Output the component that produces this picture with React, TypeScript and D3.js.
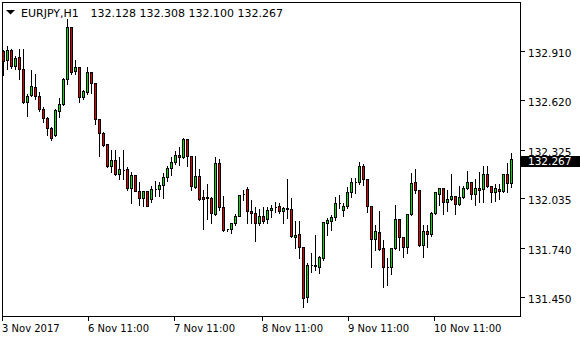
import React from "react";
import * as d3 from "d3";

const symbolName = "EURJPY,H1";

const opens = [
  132.910, 132.855, 132.916, 132.821, 132.877, 132.805, 132.607, 132.648, 132.698, 132.642,
  132.563, 132.514, 132.454, 132.410, 132.553, 132.597, 132.746, 133.050, 132.791, 132.817,
  132.639, 132.669, 132.785, 132.722, 132.504, 132.425, 132.359, 132.226, 132.266, 132.181,
  132.206, 132.210, 132.097, 132.176, 132.081, 132.035, 132.081, 132.032, 132.091, 132.091,
  132.117, 132.163, 132.216, 132.252, 132.295, 132.282, 132.389, 132.289, 132.103, 132.170,
  132.044, 132.041, 132.038, 131.942, 132.246, 131.984, 131.853, 131.853, 131.889, 131.932,
  132.061, 132.091, 131.962, 131.948, 131.889, 131.928, 131.913, 131.964, 131.982, 131.988,
  131.958, 131.974, 131.972, 131.809, 131.823, 131.746, 131.448, 131.637, 131.637, 131.631,
  131.684, 131.892, 131.904, 131.925, 132.008, 131.964, 131.988, 132.073, 132.133, 132.131,
  132.230, 132.151, 131.992, 131.794, 131.835, 131.740, 131.631, 131.631, 131.740, 131.913,
  131.806, 131.746, 131.942, 132.133, 132.083, 131.756, 131.843, 131.823, 131.948, 132.061,
  132.097, 132.014, 132.032, 132.047, 132.002, 132.044, 132.097, 132.131, 132.061, 132.097,
  132.091, 132.181, 132.107, 132.071, 132.091, 132.077, 132.181, 132.128,
];

const highs = [
  132.920, 132.946, 132.930, 132.885, 132.930, 132.930, 132.663, 132.805, 132.778, 132.672,
  132.583, 132.523, 132.464, 132.573, 132.639, 132.754, 133.103, 133.057, 132.861, 132.820,
  132.682, 132.821, 132.788, 132.725, 132.514, 132.434, 132.361, 132.329, 132.329, 132.285,
  132.329, 132.226, 132.196, 132.182, 132.141, 132.087, 132.084, 132.117, 132.147, 132.136,
  132.190, 132.236, 132.289, 132.321, 132.345, 132.401, 132.391, 132.295, 132.295, 132.216,
  132.091, 132.127, 132.047, 132.285, 132.276, 132.057, 131.859, 131.898, 131.948, 132.063,
  132.093, 132.111, 132.032, 131.988, 131.978, 131.988, 131.988, 132.004, 132.017, 132.012,
  131.988, 132.157, 132.044, 131.909, 131.909, 131.748, 131.660, 131.720, 131.823, 131.700,
  131.902, 131.925, 131.944, 132.047, 132.062, 132.012, 132.111, 132.163, 132.160, 132.256,
  132.245, 132.157, 131.998, 131.885, 131.968, 131.794, 131.687, 131.740, 132.004, 131.915,
  131.813, 131.948, 132.190, 132.216, 132.085, 131.885, 131.885, 131.958, 132.077, 132.103,
  132.099, 132.091, 132.187, 132.057, 132.117, 132.117, 132.206, 132.132, 132.157, 132.196,
  132.236, 132.236, 132.108, 132.127, 132.127, 132.187, 132.249, 132.308,
];

const lows = [
  132.766, 132.801, 132.811, 132.801, 132.742, 132.603, 132.523, 132.642, 132.627, 132.553,
  132.488, 132.414, 132.381, 132.403, 132.520, 132.587, 132.712, 132.772, 132.772, 132.607,
  132.627, 132.653, 132.663, 132.474, 132.285, 132.345, 132.224, 132.190, 132.176, 132.151,
  132.151, 132.087, 132.010, 132.077, 131.998, 131.992, 131.988, 132.012, 132.047, 132.047,
  132.035, 132.136, 132.176, 132.242, 132.236, 132.276, 132.230, 132.087, 132.097, 132.028,
  131.853, 131.913, 131.892, 131.938, 131.968, 131.843, 131.839, 131.829, 131.879, 131.928,
  132.028, 131.889, 131.892, 131.785, 131.879, 131.892, 131.889, 131.925, 131.952, 131.948,
  131.892, 131.919, 131.809, 131.740, 131.681, 131.389, 131.422, 131.601, 131.611, 131.591,
  131.670, 131.819, 131.849, 131.909, 131.978, 131.928, 131.978, 132.044, 132.067, 132.123,
  132.114, 131.952, 131.627, 131.730, 131.730, 131.508, 131.522, 131.587, 131.734, 131.726,
  131.690, 131.710, 131.938, 132.067, 131.750, 131.687, 131.746, 131.813, 131.944, 131.998,
  131.944, 131.958, 132.028, 131.944, 131.998, 132.038, 132.091, 132.032, 131.998, 132.012,
  132.012, 132.103, 132.012, 132.017, 132.032, 132.071, 132.071, 132.100,
];

const closes = [
  132.851, 132.916, 132.821, 132.871, 132.805, 132.607, 132.642, 132.702, 132.642, 132.563,
  132.514, 132.454, 132.395, 132.557, 132.597, 132.746, 133.050, 132.785, 132.817, 132.639,
  132.672, 132.785, 132.722, 132.508, 132.425, 132.355, 132.226, 132.266, 132.181, 132.210,
  132.204, 132.097, 132.176, 132.079, 132.038, 132.081, 131.992, 132.091, 132.093, 132.117,
  132.163, 132.216, 132.252, 132.295, 132.282, 132.389, 132.285, 132.107, 132.170, 132.032,
  132.032, 132.039, 131.948, 132.246, 131.982, 131.845, 131.851, 131.889, 131.932, 132.057,
  132.063, 131.958, 131.948, 131.889, 131.928, 131.904, 131.968, 131.978, 131.984, 131.958,
  131.978, 131.976, 131.812, 131.819, 131.746, 131.442, 131.637, 131.639, 131.635, 131.687,
  131.898, 131.909, 131.925, 132.008, 132.010, 131.988, 132.073, 132.133, 132.135, 132.230,
  132.151, 131.988, 131.794, 131.843, 131.736, 131.627, 131.629, 131.740, 131.913, 131.806,
  131.746, 131.942, 132.127, 132.083, 131.756, 131.843, 131.823, 131.948, 132.073, 132.097,
  132.014, 132.032, 132.047, 132.002, 132.044, 132.097, 132.133, 132.061, 132.097, 132.083,
  132.181, 132.107, 132.071, 132.097, 132.077, 132.181, 132.127, 132.267,
];

const priceTicks = [131.45, 131.74, 132.035, 132.325, 132.62, 132.91];
const timeLabels = ["3 Nov 2017", "6 Nov 11:00", "7 Nov 11:00", "8 Nov 11:00", "9 Nov 11:00", "10 Nov 11:00"];
const timeLabelBars = [0, 21.5, 43, 65, 86.5, 108];

const BULL = "#00dd00";
const BEAR = "#e00000";
const FONT = "'DejaVu Sans', Verdana, sans-serif";

export default function App() {
  const W = 580;
  const H = 340;
  const left = 2.5, right = 520.5, top = 2.5, bottom = 316.5;
  const n = opens.length;

  const x = d3.scaleLinear().domain([0, n - 1]).range([3.5, 511.5]);
  const y = d3.scaleLinear().domain([131.45, 132.91]).range([297.5, 51.5]);
  const snap = (v: number) => Math.round(v - 0.5) + 0.5;

  const lastClose = closes[n - 1];
  const lastY = y(lastClose);
  const fmt = d3.format(".3f");

  return (
    <svg
      width={W}
      height={H}
      style={{ position: "absolute", left: 0, top: 0, background: "#fff" }}
      fontFamily={FONT}
    >
      <rect x={0} y={0} width={W} height={H} fill="#fff" />
      <defs>
        <clipPath id="plot">
          <rect x={left} y={top} width={right - left} height={bottom - top} />
        </clipPath>
      </defs>
      <g clipPath="url(#plot)" shapeRendering="crispEdges">
        {opens.map((o, i) => {
          const c = closes[i];
          const cx = snap(x(i));
          const yH = snap(y(highs[i]));
          const yL = snap(y(lows[i]));
          const yT = snap(y(Math.max(o, c)));
          const yB = snap(y(Math.min(o, c)));
          const bull = c >= o;
          return (
            <g key={i}>
              <line x1={cx} x2={cx} y1={yH} y2={yL} stroke="#000" strokeWidth={1} />
              <path
                d={`M${cx - 1},${yT}H${cx + 1}V${yB}H${cx - 1}Z`}
                fill={bull ? BULL : BEAR}
                stroke="#000"
                strokeWidth={1}
              />
            </g>
          );
        })}
      </g>
      <rect
        x={left}
        y={top}
        width={right - left}
        height={bottom - top}
        fill="none"
        stroke="#000"
        strokeWidth={1}
        shapeRendering="crispEdges"
      />
      {/* price axis */}
      {priceTicks.map((p, i) => {
        const ty = snap(y(p));
        return (
          <g key={i}>
            <line x1={right} x2={right + 4} y1={ty} y2={ty} stroke="#000" shapeRendering="crispEdges" />
            <text x={528} y={ty + 5} fontSize={10.5} fill="#000">
              {fmt(p)}
            </text>
          </g>
        );
      })}
      <rect x={521} y={Math.round(lastY) - 4} width={59} height={11} fill="#000" />
      <text x={528} y={Math.round(lastY) + 5} fontSize={10.5} fill="#fff">
        {fmt(lastClose)}
      </text>
      {/* time axis */}
      {timeLabelBars.map((b, i) => {
        const tx = snap(x(b) - 1);
        return (
          <g key={i}>
            <line x1={tx} x2={tx} y1={bottom} y2={bottom + 4} stroke="#000" shapeRendering="crispEdges" />
            <text x={tx - 0.5} y={332} fontSize={10} fill="#000">
              {timeLabels[i]}
            </text>
          </g>
        );
      })}
      {/* header */}
      <path d="M6,10H15L10.5,14.5Z" fill="#000" />
      <text x={21} y={16.5} fontSize={11} fill="#000">
        {symbolName}
      </text>
      <text x={90.5} y={16.5} fontSize={11} fill="#000">
        {[opens[n - 1], highs[n - 1], lows[n - 1], closes[n - 1]].map(fmt).join(" ")}
      </text>
    </svg>
  );
}
